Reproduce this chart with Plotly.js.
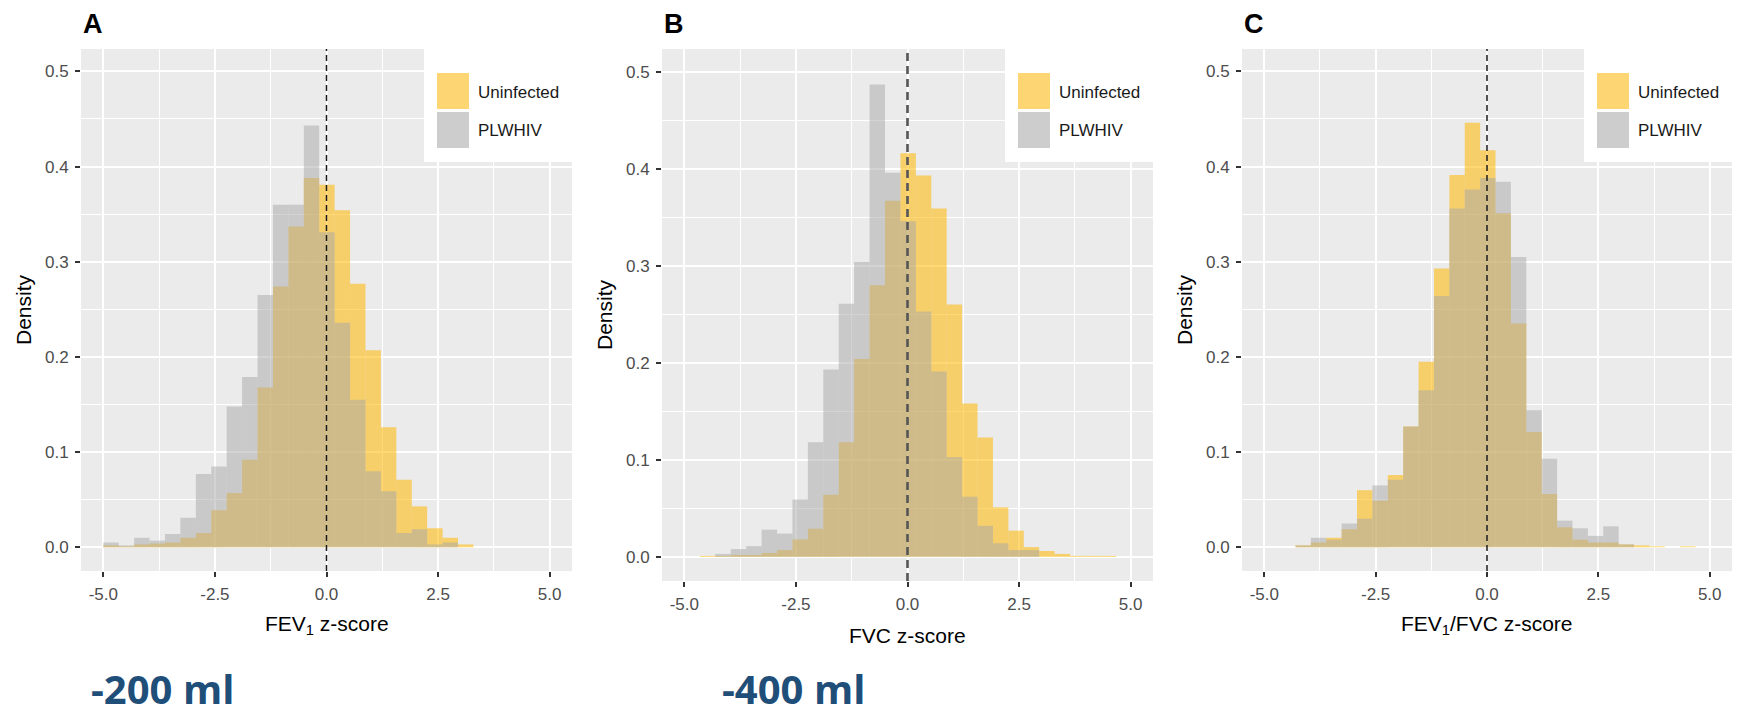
<!DOCTYPE html>
<html>
<head>
<meta charset="utf-8">
<script src="https://cdn.plot.ly/plotly-3.0.1.min.js"></script>
<style>html,body{margin:0;padding:0;background:#fff;}#chart{width:1742px;height:717px;}</style>
</head>
<body>
<div id="chart"></div>
<script>
// ---------------- DATA ----------------
const groupNames = ['Uninfected', 'PLWHIV'];
const panelLetters = ['A', 'B', 'C'];
const xTitles = ['FEV<sub>1</sub> z-score', 'FVC z-score', 'FEV<sub>1</sub>/FVC z-score'];
const effectLabels = ['-200 ml', '-400 ml'];

const binWidth = 0.3455;
const fevBinStart = -5.0;
const fvcBinStart = -4.65;
const ratioBinStart = -4.30;

// Panel A: FEV1 z-score densities
const fevUninfected = [0.002,0.001,0.003,0.004,0.005,0.010,0.015,0.039,0.057,0.092,0.168,0.274,0.337,0.388,0.381,0.354,0.277,0.207,0.126,0.071,0.043,0.020,0.010,0.003];
const fevPLWHIV     = [0.005,0.002,0.010,0.007,0.014,0.031,0.077,0.085,0.148,0.179,0.265,0.360,0.360,0.443,0.331,0.236,0.155,0.080,0.059,0.015,0.019,0.003,0.005,0.000];

// Panel B: FVC z-score densities
const fvcUninfected = [0.001,0.001,0.002,0.002,0.004,0.007,0.018,0.029,0.064,0.118,0.204,0.280,0.367,0.416,0.393,0.359,0.260,0.158,0.123,0.051,0.027,0.010,0.006,0.003,0.001,0.001,0.001];
const fvcPLWHIV     = [0.000,0.003,0.008,0.011,0.028,0.024,0.059,0.118,0.193,0.261,0.304,0.487,0.396,0.346,0.253,0.191,0.103,0.062,0.032,0.014,0.007,0.007,0.000,0.000,0.000,0.000,0.000];

// Panel C: FEV1/FVC z-score densities
const ratioUninfected = [0.002,0.005,0.010,0.019,0.060,0.049,0.076,0.127,0.195,0.293,0.391,0.446,0.417,0.351,0.235,0.121,0.056,0.021,0.008,0.005,0.005,0.003,0.002,0.001,0.000,0.001];
const ratioPLWHIV     = [0.002,0.010,0.008,0.025,0.030,0.065,0.071,0.127,0.165,0.264,0.356,0.376,0.388,0.384,0.305,0.144,0.093,0.028,0.020,0.012,0.022,0.003,0.000,0.000,0.000,0.000];

const xTickVals = [-5, -2.5, 0, 2.5, 5];
const xTickLabels = ['-5.0', '-2.5', '0.0', '2.5', '5.0'];
const yTickVals = [0, 0.1, 0.2, 0.3, 0.4, 0.5];
const yTickLabels = ['0.0', '0.1', '0.2', '0.3', '0.4', '0.5'];
const xMinorVals = [-3.75, -1.25, 1.25, 3.75];
const yMinorVals = [0.05, 0.15, 0.25, 0.35, 0.45];

// ---------------- LAYOUT / STYLE ----------------
const W = 1742, H = 717;
const px = p => p / W;
const py = p => 1 - p / H;

const fills = ['rgba(255,184,0,0.55)', 'rgba(168,168,168,0.5)'];
const keyFills = ['#FDD673', '#CDCDCD'];
const FONT = 'Liberation Sans, Arial, sans-serif';

// pixel boxes of the three panels: left, right, top, bottom
const panels = [
  {l: 81,   r: 572,  t: 49, b: 571},
  {l: 662,  r: 1153, t: 49, b: 581},
  {l: 1242, r: 1732, t: 49, b: 571}
];
const panelData = [
  [fevBinStart, fevUninfected, fevPLWHIV],
  [fvcBinStart, fvcUninfected, fvcPLWHIV],
  [ratioBinStart, ratioUninfected, ratioPLWHIV]
];

const traces = [];
const layout = {
  width: W, height: H,
  margin: {l: 0, r: 0, t: 0, b: 0},
  paper_bgcolor: '#ffffff',
  plot_bgcolor: '#EBEBEB',
  barmode: 'overlay',
  showlegend: false,
  font: {family: FONT, color: '#4D4D4D'},
  shapes: [],
  annotations: []
};

panels.forEach((p, i) => {
  const sfx = i === 0 ? '' : String(i + 1);
  const [start, unin, plw] = panelData[i];
  [unin, plw].forEach((vals, g) => {
    traces.push({
      type: 'bar',
      name: groupNames[g],
      x: vals.map((_, k) => start + (k + 0.5) * binWidth),
      y: vals,
      width: binWidth,
      marker: {color: fills[g], line: {width: 0}},
      xaxis: 'x' + sfx,
      yaxis: 'y' + sfx,
      hoverinfo: 'x+y'
    });
  });

  layout['xaxis' + sfx] = {
    domain: [px(p.l), px(p.r)],
    anchor: 'y' + sfx,
    range: [-5.5, 5.5],
    tickmode: 'array', tickvals: xTickVals, ticktext: xTickLabels,
    ticks: 'outside', ticklen: 5, tickwidth: 2, tickcolor: '#333333',
    tickfont: {size: 17, color: '#4D4D4D', family: FONT},
    ticklabelstandoff: 3,
    showgrid: true, gridcolor: '#FFFFFF', gridwidth: 2,
    minor: {tickmode: 'array', tickvals: xMinorVals, showgrid: true, gridcolor: '#FFFFFF', gridwidth: 1, ticks: ''},
    zeroline: false, showline: false, fixedrange: true
  };
  layout['yaxis' + sfx] = {
    domain: [py(p.b), py(p.t)],
    anchor: 'x' + sfx,
    range: [-0.0249, 0.5235],
    tickmode: 'array', tickvals: yTickVals, ticktext: yTickLabels,
    ticks: 'outside', ticklen: 5, tickwidth: 2, tickcolor: '#333333',
    tickfont: {size: 17, color: '#4D4D4D', family: FONT},
    ticklabelstandoff: 3,
    showgrid: true, gridcolor: '#FFFFFF', gridwidth: 2,
    minor: {tickmode: 'array', tickvals: yMinorVals, showgrid: true, gridcolor: '#FFFFFF', gridwidth: 1, ticks: ''},
    zeroline: false, showline: false, fixedrange: true
  };

  // vertical dashed reference line at z = 0
  layout.shapes.push({
    type: 'line', xref: 'x' + sfx, yref: 'y' + sfx + ' domain',
    x0: 0, x1: 0, y0: 0, y1: 1, layer: 'above',
    line: i === 1 ? {color: '#555555', width: 2.6, dash: '8px,5px'}
                  : {color: '#1A1A1A', width: 1.5, dash: '6px,4px'}
  });

  // legend box (inside top-right)
  const R = p.r;
  layout.shapes.push({
    type: 'rect', xref: 'paper', yref: 'paper', layer: 'above',
    x0: px(R - 148), x1: px(R), y0: py(162), y1: py(p.t),
    fillcolor: '#FFFFFF', line: {width: 0}
  });
  const keyTops = [73, 112];
  keyTops.forEach((kt, g) => {
    layout.shapes.push({
      type: 'rect', xref: 'paper', yref: 'paper', layer: 'above',
      x0: px(R - 135), x1: px(R - 103), y0: py(kt + 36), y1: py(kt),
      fillcolor: keyFills[g], line: {width: 0}
    });
    layout.annotations.push({
      xref: 'paper', yref: 'paper', x: px(R - 96), y: py(kt + 19),
      xanchor: 'left', yanchor: 'middle', showarrow: false,
      text: groupNames[g], font: {size: 17, color: '#1A1A1A', family: FONT}
    });
  });

  // panel letter
  layout.annotations.push({
    xref: 'paper', yref: 'paper', x: px(p.l), y: py(24),
    xanchor: 'left', yanchor: 'middle', showarrow: false,
    text: '<b>' + panelLetters[i] + '</b>', font: {size: 27, color: '#000000', family: FONT}
  });
  // y title
  layout.annotations.push({
    xref: 'paper', yref: 'paper', x: px(p.l - 58), y: py((p.t + p.b) / 2),
    xanchor: 'center', yanchor: 'middle', showarrow: false, textangle: -90,
    text: 'Density', font: {size: 21, color: '#000000', family: FONT}
  });
  // x title
  const xMid = p.l + (p.r - p.l) / 2;
  layout.annotations.push({
    xref: 'paper', yref: 'paper', x: px(xMid), y: py(p.b + 54),
    xanchor: 'center', yanchor: 'middle', showarrow: false,
    text: xTitles[i], font: {size: 21, color: '#000000', family: FONT}
  });
});

// effect-size labels under panels A and B
const effectX = [89, 720];
effectLabels.forEach((t, k) => {
  layout.annotations.push({
    xref: 'paper', yref: 'paper', x: px(effectX[k]), y: py(688),
    xanchor: 'left', yanchor: 'middle', showarrow: false,
    text: '<b>' + t + '</b>', font: {size: 40, color: '#1F4E79', family: 'Open Sans, Lato, sans-serif'}
  });
});

Plotly.newPlot('chart', traces, layout, {staticPlot: true, displayModeBar: false});
</script>
</body>
</html>
